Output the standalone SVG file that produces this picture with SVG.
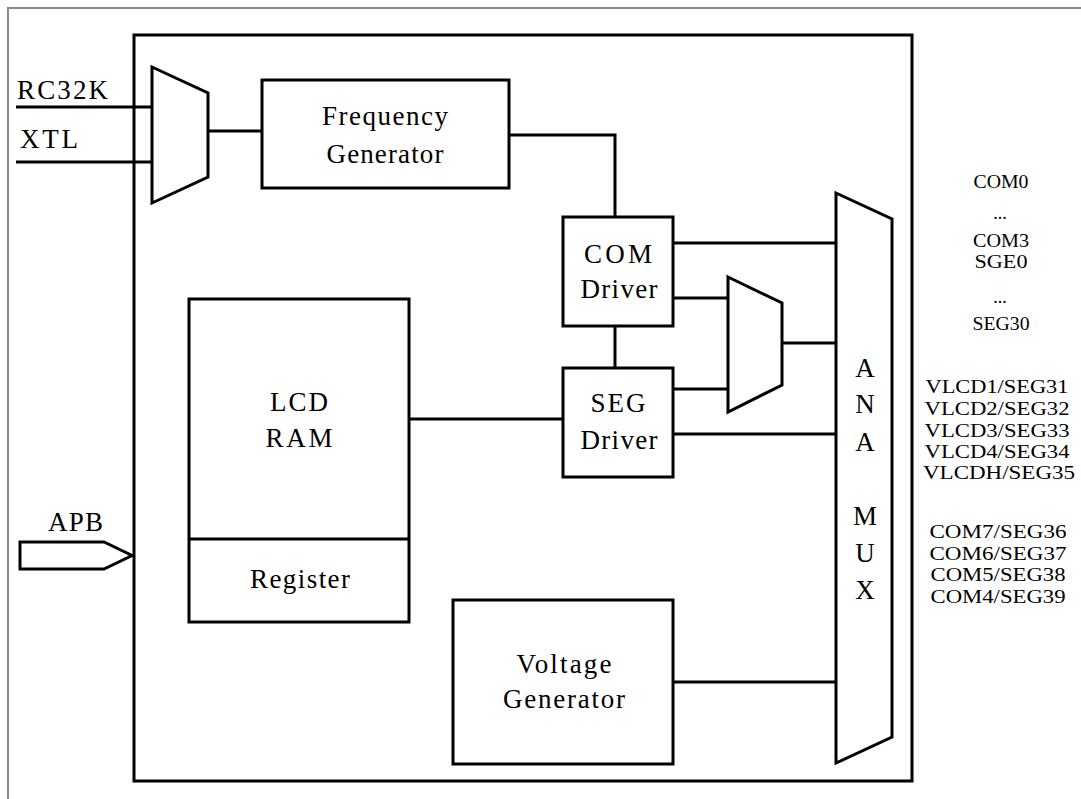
<svg xmlns="http://www.w3.org/2000/svg" width="1081" height="799" viewBox="0 0 1081 799">
<style>
.b{fill:#fff;stroke:#000;stroke-width:3}
.l{fill:none;stroke:#000;stroke-width:3}
text{font-family:'Liberation Serif','DejaVu Serif','Noto Serif','Times New Roman',Times,serif;fill:#000}
.t{font-size:27px;text-anchor:middle}
.s{font-size:18px;text-anchor:middle}
.lab{font-size:27px}
</style>
<rect width="1081" height="799" fill="#fff"/>
<g id="frame">
<path d="M8,799 V8 H1081" fill="none" stroke="#8a8a8a" stroke-width="2"/>
</g>
<g id="main"><rect class="b" x="134" y="35" width="778" height="746"/></g>
<g id="connectors">
<path class="l" d="M16,107 H152"/>
<path class="l" d="M16,162 H152"/>
<path class="l" d="M208,131 H262"/>
<path class="l" d="M509,135 H615 V217"/>
<path class="l" d="M615,326 V368"/>
<path class="l" d="M673,243 H836"/>
<path class="l" d="M673,298 H728"/>
<path class="l" d="M673,389 H728"/>
<path class="l" d="M782,343 H836"/>
<path class="l" d="M673,434 H836"/>
<path class="l" d="M409,419 H563"/>
<path class="l" d="M673,682 H836"/>
</g>
<g id="inputs">
<text class="lab" x="17" y="99" textLength="91" lengthAdjust="spacing">RC32K</text>
<text class="lab" x="20" y="148" textLength="58" lengthAdjust="spacing">XTL</text>
</g>
<g id="clkmux"><polygon class="b" points="152,67 208,93 208,177 152,203"/></g>
<g id="freqgen">
<rect class="b" x="262" y="80" width="247" height="108"/>
<text class="t" x="385" y="125" textLength="126" lengthAdjust="spacing">Frequency</text>
<text class="t" x="385" y="163" textLength="117" lengthAdjust="spacing">Generator</text>
</g>
<g id="comdriver">
<rect class="b" x="563" y="217" width="110" height="109"/>
<text class="t" x="618" y="263" textLength="68" lengthAdjust="spacing">COM</text>
<text class="t" x="619" y="298" textLength="77" lengthAdjust="spacing">Driver</text>
</g>
<g id="segdriver">
<rect class="b" x="563" y="368" width="110" height="109"/>
<text class="t" x="618" y="412" textLength="55" lengthAdjust="spacing">SEG</text>
<text class="t" x="619" y="449" textLength="77" lengthAdjust="spacing">Driver</text>
</g>
<g id="segmux"><polygon class="b" points="728,277 782,303 782,385 728,412"/></g>
<g id="lcdram">
<rect class="b" x="189" y="299" width="220" height="323"/>
<path class="l" d="M189,539 H409"/>
<text class="t" x="299" y="411" textLength="58" lengthAdjust="spacing">LCD</text>
<text class="t" x="299" y="447" textLength="67" lengthAdjust="spacing">RAM</text>
<text class="t" x="300" y="588" textLength="100" lengthAdjust="spacing">Register</text>
</g>
<g id="voltgen">
<rect class="b" x="453" y="600" width="220" height="164"/>
<text class="t" x="564" y="673" textLength="95" lengthAdjust="spacing">Voltage</text>
<text class="t" x="564" y="708" textLength="122" lengthAdjust="spacing">Generator</text>
</g>
<g id="anamux">
<polygon class="b" points="836,193 892,219 892,737 836,763"/>
<text class="t" x="865" y="377">A</text>
<text class="t" x="865" y="413">N</text>
<text class="t" x="865" y="451">A</text>
<text class="t" x="865" y="525">M</text>
<text class="t" x="865" y="562">U</text>
<text class="t" x="865" y="599">X</text>
</g>
<g id="apb">
<polygon class="b" points="20,542 104,542 132,555.5 104,569 20,569"/>
<text class="lab" x="48" y="531" textLength="55" lengthAdjust="spacing">APB</text>
</g>
<g id="pins">
<text class="s" x="1001" y="188" textLength="55" lengthAdjust="spacingAndGlyphs">COM0</text>
<text class="s" x="1000" y="219">...</text>
<text class="s" x="1001" y="247" textLength="56" lengthAdjust="spacingAndGlyphs">COM3</text>
<text class="s" x="1001" y="268" textLength="53" lengthAdjust="spacingAndGlyphs">SGE0</text>
<text class="s" x="1000" y="303">...</text>
<text class="s" x="1001" y="330" textLength="57" lengthAdjust="spacingAndGlyphs">SEG30</text>
<text class="s" x="997" y="393" textLength="143" lengthAdjust="spacingAndGlyphs">VLCD1/SEG31</text>
<text class="s" x="997" y="415" textLength="145" lengthAdjust="spacingAndGlyphs">VLCD2/SEG32</text>
<text class="s" x="997" y="437" textLength="145" lengthAdjust="spacingAndGlyphs">VLCD3/SEG33</text>
<text class="s" x="997" y="458" textLength="145" lengthAdjust="spacingAndGlyphs">VLCD4/SEG34</text>
<text class="s" x="999" y="479" textLength="152" lengthAdjust="spacingAndGlyphs">VLCDH/SEG35</text>
<text class="s" x="998" y="538" textLength="137" lengthAdjust="spacingAndGlyphs">COM7/SEG36</text>
<text class="s" x="998" y="560" textLength="137" lengthAdjust="spacingAndGlyphs">COM6/SEG37</text>
<text class="s" x="998" y="581" textLength="135" lengthAdjust="spacingAndGlyphs">COM5/SEG38</text>
<text class="s" x="998" y="603" textLength="135" lengthAdjust="spacingAndGlyphs">COM4/SEG39</text>
</g>
</svg>
